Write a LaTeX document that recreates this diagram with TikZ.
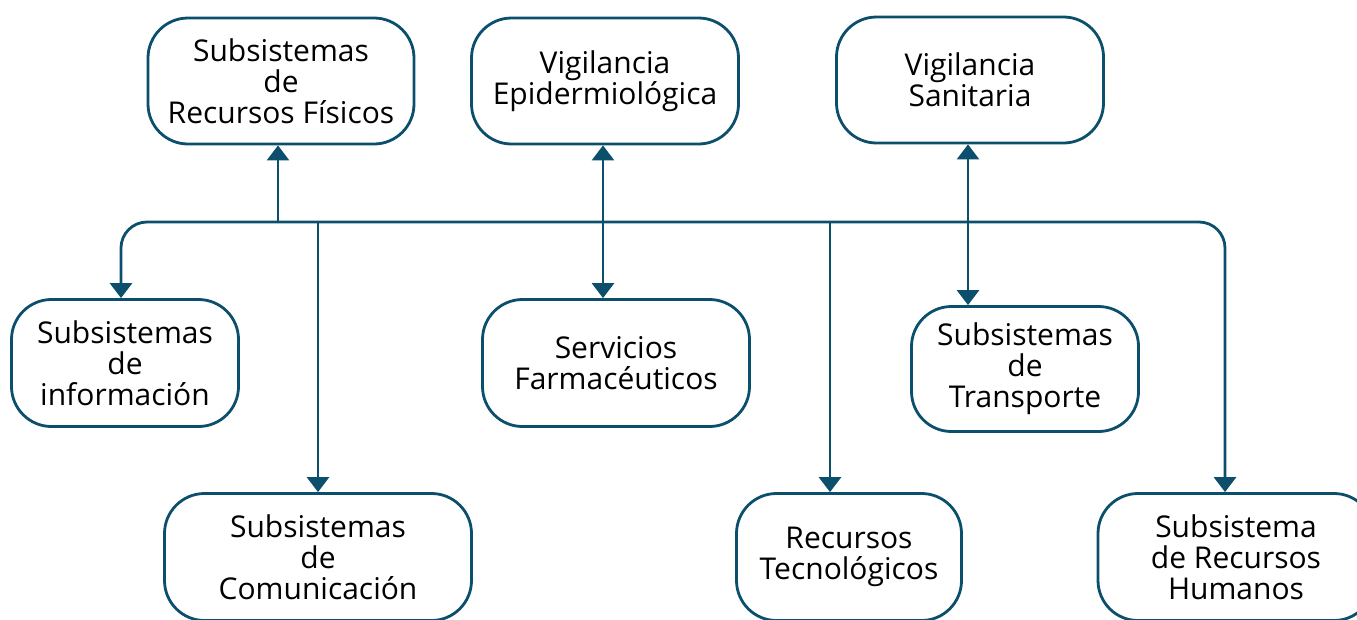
\documentclass[tikz,border=0pt]{standalone}
\usepackage{fontspec}
\setmainfont{Open Sans}
\usetikzlibrary{arrows.meta}
\definecolor{sislinea}{RGB}{11,79,108}
\tikzset{
    every node/.style={draw=sislinea, line width=2.8pt, rounded corners=40pt,
    	align=center, inner sep=0pt, font=\fontsize{30}{31}\selectfont}
}
\tikzset{
    link/.style={draw=sislinea, line width=2.8pt},
    tip/.style={-{Triangle[width=22pt,length=15pt]}},
    tips/.style={{Triangle[width=22pt,length=15pt]}-{Triangle[width=22pt,length=15pt]}}
}

\begin{document}
\begin{tikzpicture}[x=1pt, y=-1pt]
	\useasboundingbox (0,0) rectangle (1357,619);
	\clip (0,0) rectangle (1357,619);
	\node (1) [minimum width=266pt, minimum height=126pt] at ( 281, 81) {Subsistemas\\de\\Recursos Físicos};
	\node (2) [minimum width=267pt, minimum height=126pt] at ( 605, 81) {Vigilancia\\Epidermiológica};
	\node (3) [minimum width=267pt, minimum height=126pt] at ( 970, 80) {Vigilancia\\Sanitaria};
	\node (4) [minimum width=227pt, minimum height=127pt] at ( 125,363) {Subsistemas\\de\\información};
	\node (5) [minimum width=267pt, minimum height=127pt] at ( 616,363) {Servicios\\Farmacéuticos};
	\node (6) [minimum width=227pt, minimum height=125pt] at (1025,369) {Subsistemas\\de\\Transporte};
	\node (7) [minimum width=307pt, minimum height=127pt] at ( 318,557) {Subsistemas\\de\\Comunicación};
	\node (8) [minimum width=225pt, minimum height=127pt] at ( 849,557) {Recursos\\Tecnológicos};
	\node (9) [minimum width=276pt, minimum height=127pt] at (1236,557) {Subsistema\\de Recursos\\Humanos};
	\coordinate (b1) at (278,222);
	\coordinate (b2) at (830,222);
	\draw[link, tip, rounded corners=26pt] (b1) -| ([xshift=-4pt]4.north);
	\draw[link, tip, rounded corners=26pt] (b1) -| ([xshift=-11pt]9.north);
	\draw[link, tip] (b1) -- (b1 |- 1.south);
	\draw[link, tip] (7.north |- b1) -- (7.north);
	\draw[link, tip] (b2) -- (b2 |- 8.north);
	\draw[link, tips] ([xshift=-2pt]2.south) -- ([xshift=-2pt]2.south |- 5.north);
	\draw[link, tips] ([xshift=-2pt]3.south) -- ([xshift=-2pt]3.south |- 6.north);
\end{tikzpicture}
\end{document}
